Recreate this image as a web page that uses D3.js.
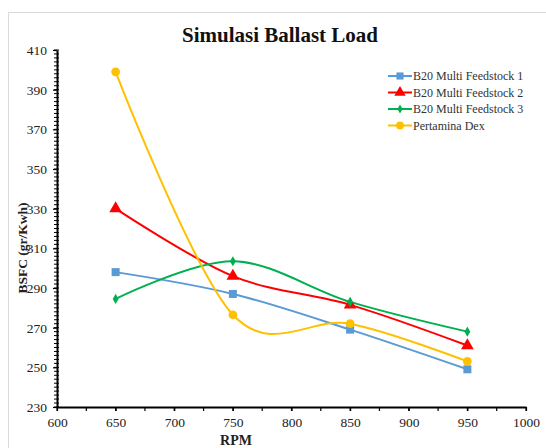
<!DOCTYPE html>
<html><head><meta charset="utf-8">
<script src="https://cdn.jsdelivr.net/npm/d3@7"></script>
<style>body{margin:0;background:#fff}svg{display:block}</style>
</head><body>
<svg id="c" width="546" height="448"></svg>
<script>
const title = "Simulasi Ballast Load";
const rpm = [650, 750, 850, 950];
const seriesNames = ["B20 Multi Feedstock 1", "B20 Multi Feedstock 2", "B20 Multi Feedstock 3", "Pertamina Dex"];
const feedstock1 = [298, 287, 269, 249];
const feedstock2 = [330, 296, 281.5, 261];
const feedstock3 = [284.5, 303.5, 283, 268];
const pertaminaDex = [399, 276.5, 272, 253];
const xTicks = [600, 650, 700, 750, 800, 850, 900, 950, 1000];
const yTicks = [230, 250, 270, 290, 310, 330, 350, 370, 390, 410];
const xLabel = "RPM";
const yLabel = "BSFC (gr/Kwh)";

const colors = ["#5B9BD5", "#FF0000", "#00B050", "#FFC000"];
const markers = ["square", "triangle", "diamond", "circle"];
const values = [feedstock1, feedstock2, feedstock3, pertaminaDex];
const series = seriesNames.map((n, i) => ({name: n, color: colors[i], marker: markers[i],
  pts: rpm.map((r, j) => ({x: r, y: values[i][j]}))}));

const svg = d3.select("#c");
const font = "'Liberation Serif', 'Times New Roman', serif";
const L = 57, R = 526, T = 50, B = 407;
const x = d3.scaleLinear().domain([600, 1000]).range([L, R]);
const y = d3.scaleLinear().domain([230, 410]).range([B, T]);

// chart border
svg.append("path").attr("d", "M8.5,460V12.5H560").attr("fill", "none").attr("stroke", "#d9d9d9").attr("stroke-width", 1);

// title
svg.append("text").attr("x", 280).attr("y", 42).attr("text-anchor", "middle")
  .attr("font-family", font).attr("font-weight", "bold").attr("font-size", 21).attr("fill", "#111").text(title);

// y minor ticks
const yMinor = d3.range(230, 410.1, 2);
svg.append("g").selectAll("line").data(yMinor).join("line")
  .attr("x1", L - 3).attr("x2", L + 2).attr("y1", d => y(d)).attr("y2", d => y(d))
  .attr("stroke", "#000").attr("stroke-width", 1);
// x minor ticks
const xMinor = d3.range(600, 1000.1, 25);
svg.append("g").selectAll("line").data(xMinor).join("line")
  .attr("x1", d => x(d)).attr("x2", d => x(d)).attr("y1", B).attr("y2", B + 4)
  .attr("stroke", "#000").attr("stroke-width", 1.2);

// axes
const yAxis = svg.append("g").attr("transform", `translate(${L},0)`)
  .call(d3.axisLeft(y).tickValues(yTicks).tickSize(4).tickSizeOuter(0).tickFormat(d3.format("d")));
const xAxis = svg.append("g").attr("transform", `translate(0,${B})`)
  .call(d3.axisBottom(x).tickValues(xTicks).tickSize(4).tickSizeOuter(0).tickFormat(d3.format("d")));
[yAxis, xAxis].forEach(a => {
  a.select(".domain").attr("stroke", "#000").attr("stroke-width", 2);
  a.selectAll(".tick line").attr("stroke", "#000").attr("stroke-width", 1.2);
  a.selectAll("text").attr("font-family", font).attr("font-size", 13.5).attr("fill", "#222");
});
yAxis.selectAll("text").attr("x", -10).attr("dy", "0.34em");
xAxis.selectAll("text").attr("y", 10);

// axis labels
svg.append("text").attr("x", 236).attr("y", 445).attr("text-anchor", "middle")
  .attr("font-family", font).attr("font-weight", "bold").attr("font-size", 14).attr("fill", "#222").text(xLabel);
svg.append("text").attr("transform", "translate(27,248) rotate(-90)").attr("text-anchor", "middle")
  .attr("font-family", font).attr("font-weight", "bold").attr("font-size", 13.5).attr("fill", "#222").text(yLabel);

// lines
const line = d3.line().x(d => x(d.x)).y(d => y(d.y)).curve(d3.curveCardinal.tension(0));
const symSize = {square: 64, triangle: 70, diamond: 30, circle: 60};
const symType = {square: d3.symbolSquare, triangle: d3.symbolTriangle, diamond: d3.symbolDiamond, circle: d3.symbolCircle};
series.forEach(s => {
  svg.append("path").datum(s.pts).attr("d", line).attr("fill", "none")
    .attr("stroke", s.color).attr("stroke-width", 2);
});
series.forEach(s => {
  svg.append("g").selectAll("path").data(s.pts).join("path")
    .attr("transform", d => `translate(${x(d.x)},${y(d.y)})`)
    .attr("d", d3.symbol().type(symType[s.marker]).size(symSize[s.marker]))
    .attr("fill", s.color);
});

// legend
const lg = svg.append("g");
series.forEach((s, i) => {
  const yy = 76 + i * 16.5;
  lg.append("line").attr("x1", 388).attr("x2", 412).attr("y1", yy).attr("y2", yy)
    .attr("stroke", s.color).attr("stroke-width", 2);
  lg.append("path").attr("transform", `translate(400,${yy})`)
    .attr("d", d3.symbol().type(symType[s.marker]).size(symSize[s.marker] * 0.8)).attr("fill", s.color);
  lg.append("text").attr("x", 413).attr("y", yy + 4).attr("font-family", font)
    .attr("font-size", 12).attr("fill", "#333").text(s.name);
});
</script>
</body></html>
